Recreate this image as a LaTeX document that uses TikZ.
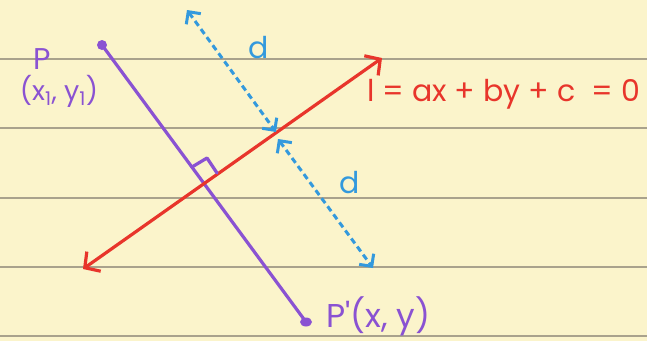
\documentclass[tikz,border=0pt]{standalone}
\usepackage{fontspec}
\setmainfont{Poppins}
\usetikzlibrary{arrows.meta,shapes.geometric}
\definecolor{paper}{HTML}{FBF4CB}
\definecolor{rule}{HTML}{A9A28C}
\definecolor{lred}{HTML}{E8352B}
\definecolor{lpurple}{HTML}{8A52D2}
\definecolor{lblue}{HTML}{3399DD}
\tikzset{
  ruleline/.style={rule, line width=1.3pt},
  redline/.style={lred, line width=3.2pt, {Straight Barb[length=11pt,width=24pt]}-{Straight Barb[length=11pt,width=24pt]}},
  purpleline/.style={lpurple, line width=3.2pt},
  dotmark/.style={circle, fill=lpurple, inner sep=0pt, minimum size=10pt},
  blueline/.style={lblue, line width=3pt, dash pattern=on 6pt off 4pt},
  bluetips/.style={{Straight Barb[length=9pt,width=18pt]}-{Straight Barb[length=9pt,width=18pt]}},
  lbl/.style={inner sep=0pt, font=\fontsize{30}{30}\selectfont},
}
\begin{document}
\begin{tikzpicture}[x=1pt,y=-1pt]
\fill[paper] (0,0) rectangle (647,341);
\useasboundingbox (0,0) rectangle (647,341);
\foreach \yy in {59,128,198,267,336} \draw[ruleline] (0,\yy) -- (647,\yy);
% coordinates
\coordinate (rA) at (83,269);
\coordinate (rB) at (382,58);
\node[dotmark] (P) at (102,45) {};
\node[fill=lpurple, inner sep=0pt, ellipse, minimum width=12pt, minimum height=9pt] (Pp) at (306,322) {};
\coordinate (b1) at (187,10);
\coordinate (b2) at (276,132);
\coordinate (b3) at (278,139);
\coordinate (b4) at (373,268);
% lines
\draw[purpleline] (P.center) -- (Pp.center);
\draw[redline] (rA) -- (rB);
\draw[purpleline, line cap=round, line join=round] (192,167) -- (207,158) -- (217,173);
\draw[blueline, bluetips] (b1) -- (b2);
\draw[blueline, bluetips] (b3) -- (b4);
% labels
\node[lbl, lpurple, anchor=base] (lP) at (42,69) {P};
\node[lbl, lpurple, anchor=base, font=\fontsize{27}{27}\selectfont] (lP1) at (59,100) {(x\textsubscript{1}, y\textsubscript{1})};
\node[lbl, lblue, anchor=base] (d1) at (259,58) {d};
\node[lbl, lblue, anchor=base] (d2) at (350,193) {d};
\node[lbl, lred, anchor=base west] (eq) at (367,101) {l = ax + by + c \ = 0};
\node[lbl, lpurple, anchor=base west, font=\fontsize{33}{33}\selectfont] (lPp) at (326,327) {P\textquotesingle(x, y)};
\end{tikzpicture}
\end{document}
